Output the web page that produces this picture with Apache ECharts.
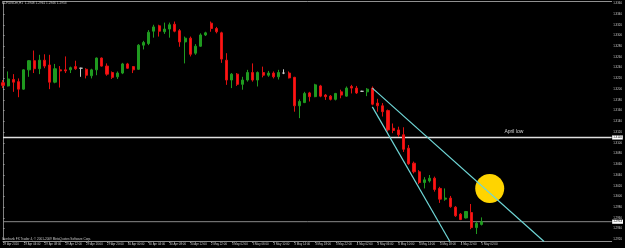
<!DOCTYPE html>
<html><head><meta charset="utf-8">
<script src="https://cdn.jsdelivr.net/npm/echarts@6/dist/echarts.min.js"></script>
<style>html,body{margin:0;padding:0;background:#000;}#c{width:625px;height:248px;}</style>
</head><body><div id="c"></div>
<script>
const tickLabels = ["29 Apr 2010","29 Apr 04:00","29 Apr 08:00","29 Apr 12:00","29 Apr 16:00","29 Apr 20:00","30 Apr 00:00","30 Apr 04:00","30 Apr 08:00","30 Apr 12:00","2 May 22:00","3 May 02:00","3 May 06:00","3 May 10:00","3 May 14:00","3 May 18:00","3 May 22:00","4 May 02:00","4 May 06:00","4 May 10:00","4 May 14:00","4 May 18:00","4 May 22:00","5 May 02:00"];
const opens = [1.3212,1.3206,1.3218,1.3214,1.3200,1.3236,1.3253,1.3238,1.3254,1.3245,1.3213,1.3236,1.3236,1.3236,1.3242,1.3239,1.3237,1.3225,1.3236,1.3258,1.3243,1.3231,1.3223,1.3230,1.3247,1.3242,1.3237,1.3282,1.3285,1.3308,1.3318,1.3307,1.3312,1.3321,1.3309,1.3288,1.3295,1.3267,1.3280,1.3301,1.3323,1.3313,1.3305,1.3254,1.3217,1.3228,1.3209,1.3217,1.3231,1.3217,1.3231,1.3226,1.3230,1.3223,1.3230,1.3230,1.3222,1.3169,1.3175,1.3193,1.3186,1.3206,1.3189,1.3187,1.3181,1.3195,1.3187,1.3205,1.3202,1.3196,1.3195,1.3202,1.3174,1.3169,1.3160,1.3127,1.3124,1.3115,1.3090,1.3062,1.3046,1.3026,1.3029,1.3034,1.3015,1.2995,1.2997,1.2980,1.2967,1.2960,1.2970,1.2942,1.2948];
const closes = [1.3207,1.3219,1.3213,1.3200,1.3236,1.3253,1.3238,1.3254,1.3243,1.3213,1.3238,1.3234,1.3234,1.3240,1.3238,1.3239,1.3226,1.3236,1.3258,1.3243,1.3228,1.3222,1.3230,1.3247,1.3239,1.3236,1.3282,1.3287,1.3306,1.3316,1.3308,1.3312,1.3320,1.3308,1.3288,1.3295,1.3265,1.3280,1.3301,1.3305,1.3313,1.3307,1.3256,1.3217,1.3228,1.3209,1.3217,1.3231,1.3217,1.3231,1.3226,1.3230,1.3223,1.3231,1.3230,1.3221,1.3169,1.3177,1.3192,1.3186,1.3208,1.3187,1.3186,1.3181,1.3192,1.3189,1.3202,1.3202,1.3193,1.3196,1.3200,1.3172,1.3169,1.3158,1.3124,1.3123,1.3115,1.3088,1.3061,1.3046,1.3026,1.3031,1.3034,1.3013,1.2995,1.2997,1.2981,1.2964,1.2957,1.2972,1.2942,1.2950,1.2953];
const lows = [1.3202,1.3205,1.3195,1.3185,1.3199,1.3223,1.3230,1.3228,1.3239,1.3200,1.3211,1.3203,1.3230,1.3230,1.3236,1.3223,1.3220,1.3220,1.3226,1.3242,1.3225,1.3219,1.3219,1.3228,1.3238,1.3230,1.3236,1.3274,1.3282,1.3296,1.3298,1.3303,1.3296,1.3306,1.3279,1.3248,1.3261,1.3264,1.3279,1.3299,1.3307,1.3304,1.3249,1.3208,1.3202,1.3206,1.3199,1.3214,1.3214,1.3205,1.3222,1.3223,1.3220,1.3218,1.3228,1.3220,1.3158,1.3146,1.3174,1.3177,1.3185,1.3185,1.3180,1.3179,1.3179,1.3183,1.3186,1.3192,1.3191,1.3195,1.3187,1.3170,1.3158,1.3149,1.3121,1.3118,1.3111,1.3083,1.3059,1.3043,1.3023,1.3015,1.3026,1.3009,1.2988,1.2992,1.2979,1.2962,1.2956,1.2959,1.2939,1.2930,1.2946];
const highs = [1.3217,1.3233,1.3228,1.3220,1.3237,1.3254,1.3272,1.3264,1.3265,1.3264,1.3247,1.3243,1.3261,1.3242,1.3253,1.3240,1.3239,1.3238,1.3259,1.3259,1.3248,1.3233,1.3233,1.3249,1.3249,1.3243,1.3284,1.3290,1.3310,1.3320,1.3320,1.3324,1.3324,1.3326,1.3312,1.3298,1.3298,1.3284,1.3304,1.3307,1.3326,1.3316,1.3307,1.3267,1.3230,1.3230,1.3223,1.3236,1.3248,1.3233,1.3242,1.3234,1.3233,1.3236,1.3237,1.3233,1.3223,1.3181,1.3195,1.3195,1.3210,1.3208,1.3191,1.3189,1.3193,1.3199,1.3205,1.3208,1.3206,1.3197,1.3202,1.3205,1.3182,1.3174,1.3162,1.3136,1.3130,1.3129,1.3096,1.3065,1.3049,1.3036,1.3040,1.3037,1.3018,1.3015,1.3001,1.2982,1.2969,1.2973,1.2986,1.2953,1.2961];
const symbolTitle = "EURUSDm,H1  1.2948 1.2961 1.2946 1.2953";
const footerText = "Interbank FX Trader 4, © 2001-2009 MetaQuotes Software Corp.";
const aprilLow = 1.3110;
const aprilLowText = "April low";
const aprilLowTextAt = [98.2, 1.3110];
const bidPrice = 1.2953;
const hLineSpan = [0, 117];
const trendUpper = [[71, 1.3202], [104.0, 1.2916]];
const trendLower = [[71, 1.3167], [85.9, 1.2916]];
const circleAt = [[93.56, 1.3015]];

const candleData = opens.map((o, i) => [i, o, closes[i], lows[i], highs[i]]);
const tickValues = tickLabels.map((_, k) => k * 4);
const FONT = 'Liberation Sans';
function hLine(price, color, width) {
  return {type: 'line', data: hLineSpan.map(x => [x, price]), symbol: 'none', clip: false, z: 2, silent: true,
    lineStyle: {color: color, width: width},
    endLabel: {show: true, distance: 0.5, formatter: () => price.toFixed(4), backgroundColor: '#ffffff', color: '#000',
      fontSize: 2.9, padding: [0.6, 1], fontFamily: FONT}};
}
const chart = echarts.init(document.getElementById('c'), null, {renderer: 'canvas'});
chart.setOption({
  backgroundColor: '#000',
  animation: false,
  title: [
    {text: symbolTitle, left: 2, top: 1.6, padding: 0, textStyle: {color: '#c8c8c8', fontSize: 3.2, fontWeight: 'normal', fontFamily: FONT}},
    {text: footerText, left: 2, top: 237.6, padding: 0, textStyle: {color: '#c8c8c8', fontSize: 3.1, fontWeight: 'normal', fontFamily: FONT}}
  ],
  grid: {left: 1.7, right: 13, top: 3.3, bottom: 8.6},
  xAxis: [
    {type: 'value', min: 0, max: 117, offset: 2, position: 'bottom',
     axisLine: {show: true, lineStyle: {color: '#909090', width: 1}},
     axisTick: {show: true, length: 1.5, customValues: tickValues, lineStyle: {color: '#909090'}},
     axisLabel: {show: true, customValues: tickValues, align: 'left', margin: 1, fontSize: 2.9, color: '#c8c8c8', fontFamily: FONT,
       formatter: v => tickLabels[Math.round(v / 4)] || ''},
     splitLine: {show: false}},
    {type: 'value', min: 0, max: 117, offset: 2.3, position: 'top',
     axisLine: {show: true, lineStyle: {color: '#909090', width: 1}},
     axisTick: {show: false}, axisLabel: {show: false}, splitLine: {show: false}}
  ],
  yAxis: [
    {type: 'value', position: 'right', min: 1.2920, max: 1.3360, interval: 0.002,
     axisLine: {show: true, lineStyle: {color: '#a0a0a0', width: 1}},
     axisTick: {show: true, length: 1.5, lineStyle: {color: '#a0a0a0'}},
     axisLabel: {show: true, margin: 1.5, fontSize: 2.9, color: '#c8c8c8', fontFamily: FONT, formatter: v => v.toFixed(4)},
     splitLine: {show: false}},
    {type: 'value', position: 'left', min: 1.2920, max: 1.3360, offset: 1.7,
     axisLine: {show: true, lineStyle: {color: '#808080', width: 1}},
     axisTick: {show: false}, axisLabel: {show: false}, splitLine: {show: false}}
  ],
  series: [
    {type: 'candlestick', data: candleData, encode: {x: 0, y: [1, 2, 3, 4]}, barWidth: 2.6, z: 3,
     itemStyle: {color: '#1f9a1f', color0: '#ff1414', borderColor: '#1f9a1f', borderColor0: '#e01010', borderColorDoji: '#c8c8c8', borderWidth: 1}},
    hLine(aprilLow, '#e0e0e0', 1.6),
    hLine(bidPrice, '#8a8a8a', 1),
    {type: 'scatter', data: circleAt, symbol: 'circle', symbolSize: 29, z: 4, silent: true,
     itemStyle: {color: '#ffd400', opacity: 1}},
    {type: 'line', data: trendUpper, symbol: 'none', clip: false, z: 5, silent: true,
     lineStyle: {color: '#6fd6d6', width: 1.2}},
    {type: 'line', data: trendLower, symbol: 'none', clip: false, z: 5, silent: true,
     lineStyle: {color: '#6fd6d6', width: 1.2}},
    {type: 'scatter', data: [aprilLowTextAt], symbolSize: 0, z: 6, silent: true,
     label: {show: true, position: 'top', distance: 3, formatter: aprilLowText, color: '#ffffff', fontSize: 5, fontFamily: FONT}}
  ]
});
</script></body></html>
